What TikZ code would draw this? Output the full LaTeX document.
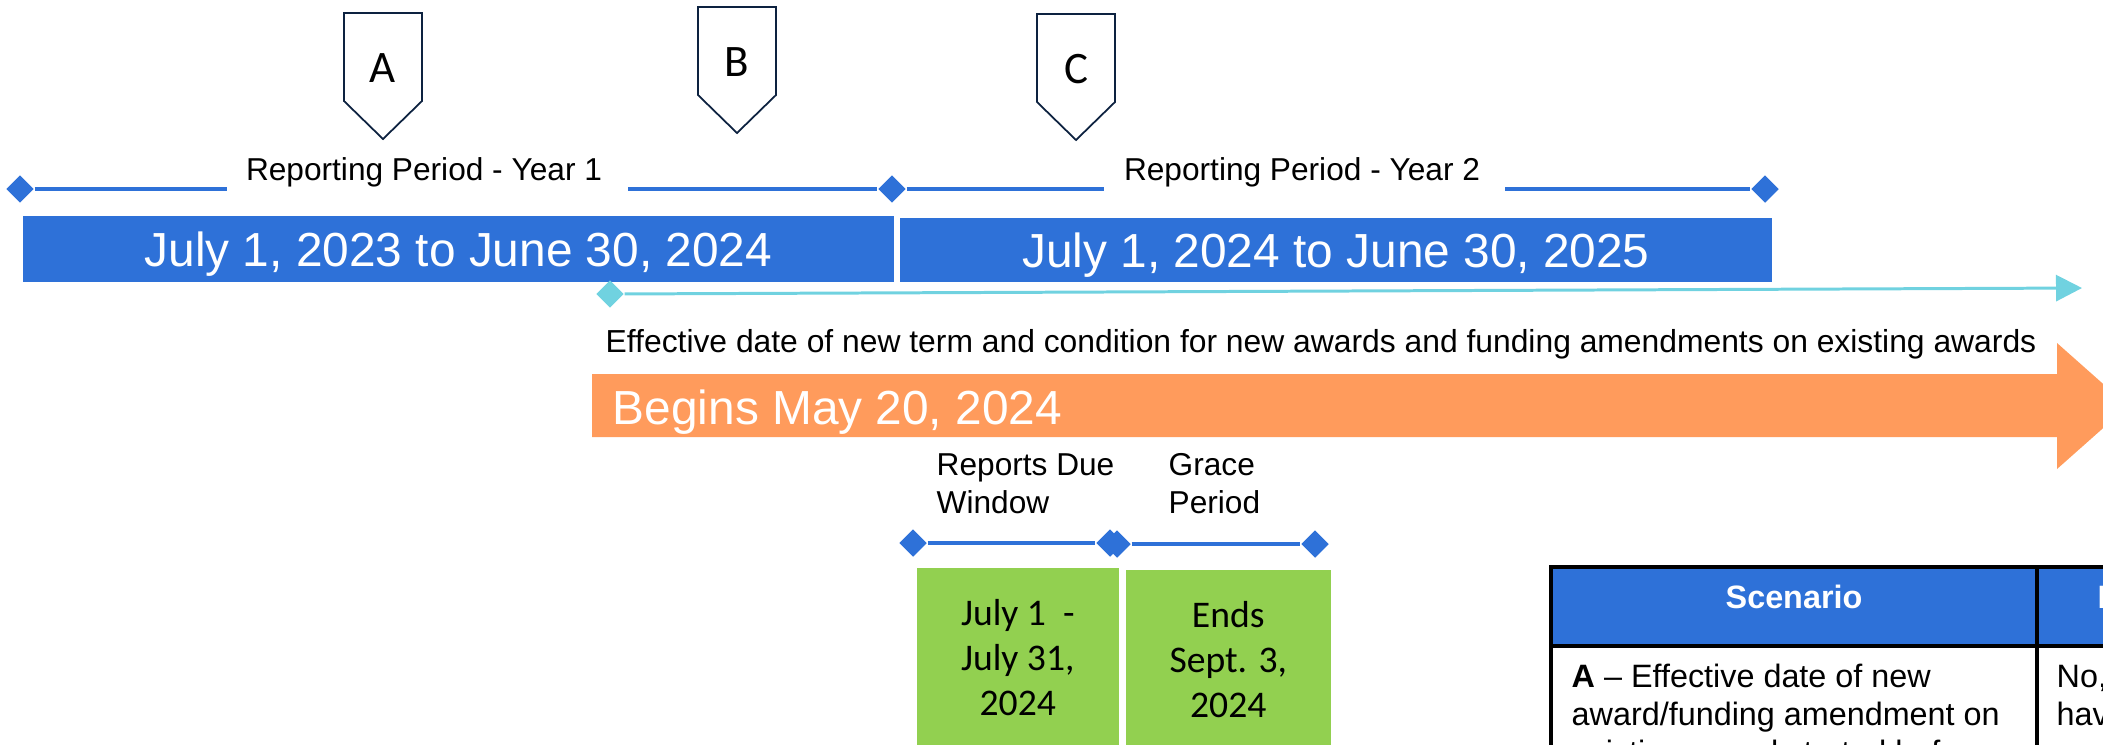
\documentclass[tikz,border=0pt]{standalone}
\usepackage{fontspec}
\setmainfont{Liberation Sans}
\newfontfamily\calib{Carlito}
\usetikzlibrary{shapes.geometric,arrows.meta,positioning}
\definecolor{tblue}{HTML}{2E71D8}
\definecolor{tcyan}{HTML}{70D2E0}
\definecolor{torange}{HTML}{FF9B5C}
\definecolor{tgreen}{HTML}{92D050}
\definecolor{tnavy}{HTML}{0D2240}
\newcommand{\fsz}[2]{\fontsize{#1}{#2}\selectfont}

\begin{document}
\begin{tikzpicture}[x=0.01cm,y=-0.01cm,
    dia/.style={diamond,fill=#1,inner sep=0pt,minimum size=0.28cm},
    dia/.default=tblue,
    tl/.style={draw=tblue,line width=0.95pt},
    bar/.style={fill=tblue,text=white,inner sep=0pt,text depth=0pt,font=\fsz{13.6}{16}},
    lbl/.style={inner sep=0pt,align=left,font=\fsz{9}{10.8}},
    gbox/.style={fill=tgreen,inner sep=0pt,minimum height=1.8cm,align=center,font=\calib\fsz{10.7}{12.8}},
    flag/.style={draw=tnavy,line width=0.5pt,fill=white}]
    \useasboundingbox (0,0) rectangle (2103,744);
    \clip (0,0) rectangle (2103,744);
    % A, B, C markers
    \foreach \x/\y/\l in {383/13/A,737/7/B,1076/14/C}{
        \draw[flag] (\x-39,\y)--(\x+39,\y)--(\x+39,\y+88)--(\x,\y+126)--(\x-39,\y+88)--cycle;
        \node[inner sep=0pt,font=\calib\fsz{12.8}{14}] (m\l) at (\x,\y+55) {\l};
    }
    % reporting periods
    \node[dia] (p1a) at (20,189) {};
    \node[dia] (p1b) at (892,189) {};
    \node[dia] (p2b) at (1765,189) {};
    \node[lbl,anchor=base] (rp1) at (424,180) {Reporting Period - Year 1};
    \node[lbl,anchor=base] (rp2) at (1302,180) {Reporting Period - Year 2};
    \coordinate (g1a) at (227,189); \coordinate (g1b) at (628,189);
    \coordinate (g2a) at (1104,189); \coordinate (g2b) at (1505,189);
    \draw[tl] (p1a)--(g1a) (g1b)--(p1b) (p1b)--(g2a) (g2b)--(p2b);
    \node[bar,minimum width=8.71cm,minimum height=0.66cm,anchor=north west] (yr1) at (22,215) {July 1, 2023 to June 30, 2024};
    \node[bar,minimum width=8.72cm,minimum height=0.64cm,anchor=north west] (yr2) at (899,217) {July 1, 2024 to June 30, 2025};
    % effective date
    \node[dia=tcyan] (eff) at (610,294) {};
    \coordinate (effend) at (2082,288);
    \draw[draw=tcyan,line width=0.85pt,-{Triangle[length=0.26cm,width=0.26cm]}] (eff)--(effend);
    \node[lbl,anchor=base west,font=\fsz{9.05}{11}] (efftxt) at (605,352) {Effective date of new term and condition for new awards and funding amendments on existing awards};
    \fill[torange] (592,374)--(2057,374)--(2057,343)--(2128,406)--(2057,469)--(2057,437)--(592,437)--cycle;
    \node[inner sep=0pt,anchor=base west,text=white,font=\fsz{13.6}{16}] (begin) at (612,424) {Begins May 20, 2024};
    % due window and grace period
    \node[lbl,anchor=base west] (wlbl) at (936,513) {Reports Due\\Window};
    \node[lbl,anchor=base west] (glbl) at (1168,513) {Grace\\Period};
    \node[dia] (w1) at (913,543) {};
    \node[dia] (w2) at (1110,543) {};
    \node[dia] (gp1) at (1117,544) {};
    \node[dia] (gp2) at (1315,544) {};
    \draw[tl] (w1)--(w2) (gp1)--(gp2);
    \node[gbox,minimum width=2.02cm,anchor=north west] (wbox) at (916,567) {July 1\ \ -\\July 31,\\2024};
    \node[gbox,minimum width=2.05cm,anchor=north west] (gbox) at (1125,569) {Ends\\Sept. 3,\\2024};
    % scenario table
    \fill[tblue] (1551,567) rectangle (2110,646);
    \draw[line width=0.9pt] (2110,567)--(1551,567)--(1551,750) (1551,646)--(2110,646) (2037,567)--(2037,750);
    \node[inner sep=0pt,anchor=base,text=white,font=\bfseries\fsz{9.2}{11}] (hsc) at (1794,608) {Scenario};
    \node[inner sep=0pt,anchor=base west,text=white,font=\bfseries\fsz{9.2}{11}] (hq) at (2097,608) {Does};
    \node[lbl,anchor=base west,font=\fsz{9.2}{10.8}] (rowa) at (1571,763) {\textbf{A} -- Effective date of new\\award/funding amendment on\\existing award started before};
    \node[lbl,anchor=base west,font=\fsz{9.2}{10.8}] (rowb) at (2056,725) {No,\\have};
\end{tikzpicture}
\end{document}
